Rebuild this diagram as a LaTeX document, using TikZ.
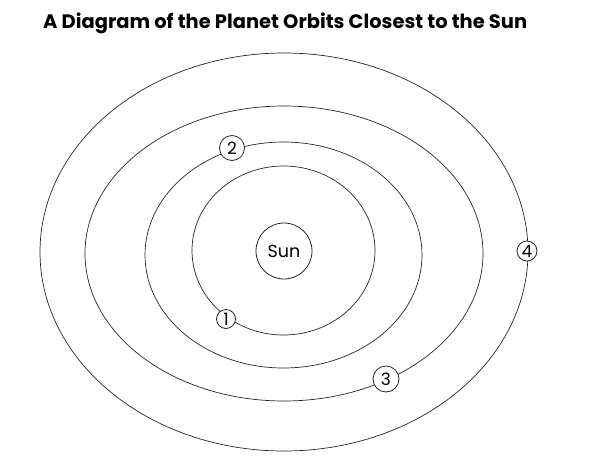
\documentclass[tikz,border=0pt]{standalone}
\usepackage{fontspec}
\setmainfont{Poppins}
\usepackage{graphicx}
\begin{document}
\begin{tikzpicture}[x=1pt,y=-1pt,
  orbit/.style={draw=black!85, line width=0.7pt},
  planet/.style={draw=black!85, circle, fill=white, line width=0.8pt, inner sep=0pt, font=\fontsize{17}{17}\selectfont},
  sunbody/.style={draw=black!85, circle, line width=0.8pt, inner sep=0pt, minimum size=56pt, font=\fontsize{17.5}{17.5}\selectfont}]
\useasboundingbox (0,0) rectangle (603,464);
\node[anchor=base west, inner sep=0pt] (title) at (43,28)
  {\resizebox{484pt}{!}{\fontsize{22}{22}\selectfont\bfseries A Diagram of the Planet Orbits Closest to the Sun}};
\draw[orbit] (283.5,250.5) ellipse [x radius=91.5, y radius=84.5];
\draw[orbit] (283.5,255) ellipse [x radius=138.5, y radius=113];
\draw[orbit] (284,253.5) ellipse [x radius=199, y radius=147.5];
\draw[orbit] (284,252) ellipse [x radius=244, y radius=199];
\node[sunbody] (sun) at (284,251) {Sun};
\node[planet, minimum size=19pt] (p1) at (226,319) {1};
\node[planet, minimum size=25pt] (p2) at (232,148) {2};
\node[planet, minimum size=26pt] (p3) at (386,379) {3};
\node[planet, minimum size=20pt] (p4) at (527,251) {4};
\end{tikzpicture}
\end{document}
